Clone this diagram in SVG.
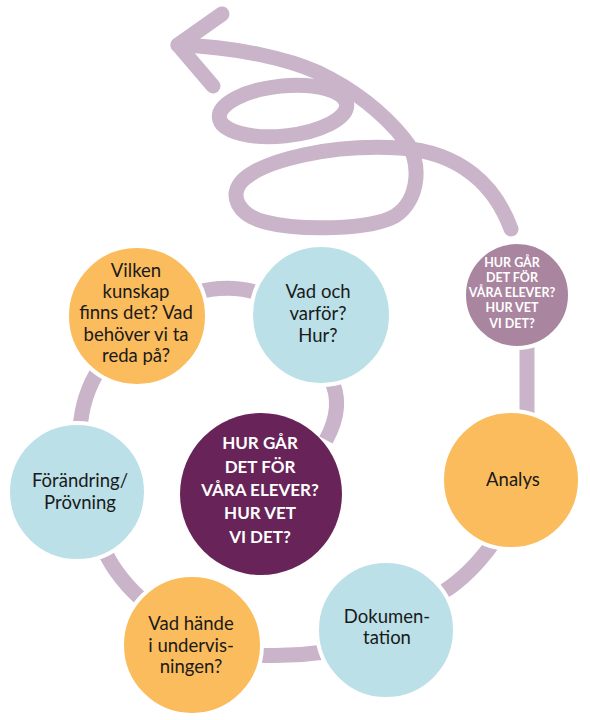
<svg xmlns="http://www.w3.org/2000/svg" width="590" height="720" viewBox="0 0 590 720">
<style>
.con{fill:none;stroke:#C9B4C9;stroke-width:15;stroke-linecap:butt}
.sp{fill:none;stroke:#C9B4C9;stroke-width:15;stroke-linecap:round;stroke-linejoin:round}
.or{fill:#FABC5C;stroke:#fff;stroke-width:4}
.bl{fill:#BBE0E8;stroke:#fff;stroke-width:4}
.t{font-family:Lato,"Open Sans","Liberation Sans",sans-serif;font-size:18.5px;fill:#1a1a1a;text-anchor:middle}
.w{font-family:Lato,"Open Sans","Liberation Sans",sans-serif;font-weight:bold;fill:#fff;text-anchor:middle}
</style>
<rect width="590" height="720" fill="#fff"/>
<g id="connectors">
<path class="sp" d="M 511,229 C 495,185 460,152 400,148 C 330,144 265,160 243,180 C 228,195 238,215 265,222 C 300,231 370,230 395,216 C 420,200 422,160 405,140 C 385,115 355,90 317,72 C 290,60 240,47 178,45"/>
<ellipse class="sp" cx="283" cy="111" rx="64" ry="25" transform="rotate(-6 283 111)"/>
<path class="sp" d="M 222,14 L 178,45 L 213,86"/>
<path class="con" d="M 195,293 Q 229,283 262,294"/>
<path class="con" d="M 330,378 Q 345,405 326,440"/>
<path class="con" d="M 100,368 Q 82,395 80,430"/>
<path class="con" d="M 104,550 Q 118,580 148,605"/>
<path class="con" d="M 255,655 Q 290,657 325,652"/>
<path class="con" d="M 443,592 Q 470,575 493,543"/>
<path class="con" d="M 527,340 L 527,418"/>
</g>
<g id="n-top">
<circle cx="517" cy="295" r="53" fill="#AA85A0" stroke="#fff" stroke-width="4"/>
<text class="w" font-size="12.5"><tspan x="512" y="267">HUR GÅR</tspan><tspan x="512" y="282">DET FÖR</tspan><tspan x="512" y="297">VÅRA ELEVER?</tspan><tspan x="512" y="312">HUR VET</tspan><tspan x="512" y="328">VI DET?</tspan></text>
</g>
<g id="n-analys">
<circle class="or" cx="511" cy="480" r="69"/>
<text class="t" x="513" y="486">Analys</text>
</g>
<g id="n-dok">
<circle class="bl" cx="386" cy="630" r="69"/>
<text class="t"><tspan x="387" y="623">Dokumen-</tspan><tspan x="387" y="644">tation</tspan></text>
</g>
<g id="n-hande">
<circle class="or" cx="192" cy="645" r="70"/>
<text class="t"><tspan x="191" y="630">Vad hände</tspan><tspan x="191" y="652">i undervis-</tspan><tspan x="191" y="673">ningen?</tspan></text>
</g>
<g id="n-forandring">
<circle class="bl" cx="77" cy="492" r="69"/>
<text class="t"><tspan x="80" y="487">Förändring/</tspan><tspan x="80" y="509">Prövning</tspan></text>
</g>
<g id="n-vilken">
<circle class="or" cx="137" cy="316" r="70"/>
<text class="t"><tspan x="136" y="277">Vilken</tspan><tspan x="136" y="298">kunskap</tspan><tspan x="136" y="319">finns det? Vad</tspan><tspan x="136" y="341">behöver vi ta</tspan><tspan x="136" y="362">reda på?</tspan></text>
</g>
<g id="n-vadoch">
<circle class="bl" cx="321" cy="315" r="70"/>
<text class="t"><tspan x="318" y="298">Vad och</tspan><tspan x="318" y="320">varför?</tspan><tspan x="318" y="342">Hur?</tspan></text>
</g>
<g id="n-center">
<circle cx="261" cy="494" r="81" fill="#682458"/>
<text class="w" font-size="17"><tspan x="260" y="449">HUR GÅR</tspan><tspan x="260" y="473">DET FÖR</tspan><tspan x="260" y="496">VÅRA ELEVER?</tspan><tspan x="260" y="519">HUR VET</tspan><tspan x="260" y="543">VI DET?</tspan></text>
</g>
</svg>
